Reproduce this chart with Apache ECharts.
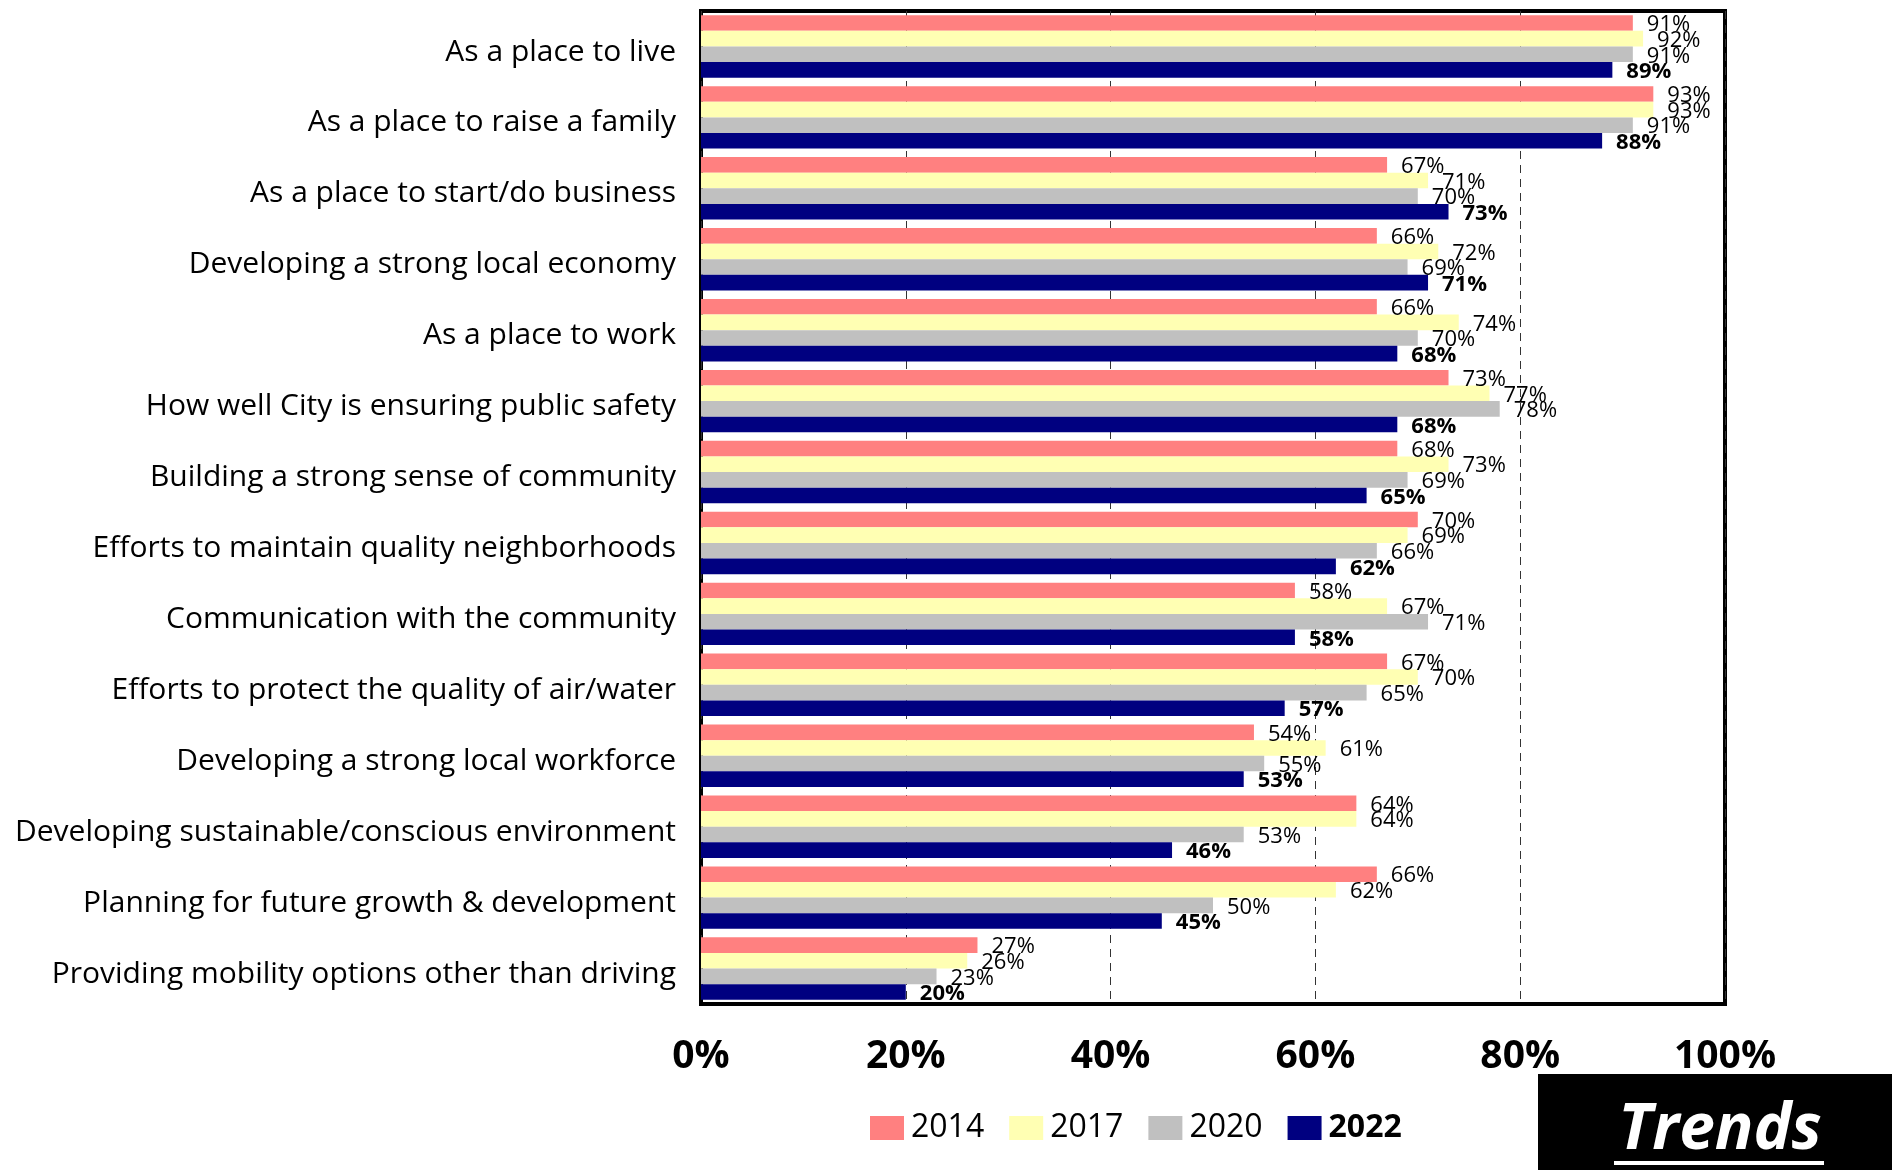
<!DOCTYPE html>
<html>
<head>
<meta charset="utf-8">
<script src="https://cdn.jsdelivr.net/npm/echarts@6/dist/echarts.min.js"></script>
<style>
html,body{margin:0;padding:0;background:#fff;}
#chart{width:1892px;height:1170px;}
</style>
</head>
<body>
<div id="chart"></div>
<script>
const categories = [
  'As a place to live',
  'As a place to raise a family',
  'As a place to start/do business',
  'Developing a strong local economy',
  'As a place to work',
  'How well City is ensuring public safety',
  'Building a strong sense of community',
  'Efforts to maintain quality neighborhoods',
  'Communication with the community',
  'Efforts to protect the quality of air/water',
  'Developing a strong local workforce',
  'Developing sustainable/conscious environment',
  'Planning for future growth & development',
  'Providing mobility options other than driving'
];
const seriesNames = ['2014', '2017', '2020', '2022'];
const values2014 = [91, 93, 67, 66, 66, 73, 68, 70, 58, 67, 54, 64, 66, 27];
const values2017 = [92, 93, 71, 72, 74, 77, 73, 69, 67, 70, 61, 64, 62, 26];
const values2020 = [91, 91, 70, 69, 70, 78, 69, 66, 71, 65, 55, 53, 50, 23];
const values2022 = [89, 88, 73, 71, 68, 68, 65, 62, 58, 57, 53, 46, 45, 20];
const xTicks = [0, 20, 40, 60, 80, 100];

const colors = ['#FF8080', '#FFFFB3', '#C0C0C0', '#000080'];
const allValues = [values2014, values2017, values2020, values2022];
const FONT = 'Open Sans';

const chart = echarts.init(document.getElementById('chart'), null, {renderer: 'canvas'});

const series = seriesNames.map((name, i) => ({
  name: name,
  type: 'bar',
  data: allValues[i],
  barGap: '0%',
  barCategoryGap: '12%',
  itemStyle: {color: colors[i]},
  label: {
    show: true,
    position: 'right',
    distance: 14,
    offset: [0, 2],
    formatter: '{c}%',
    color: '#000',
    fontFamily: FONT,
    fontSize: 22,
    fontWeight: i === 3 ? 'bold' : 'normal'
  },
  z: 3
}));

chart.setOption({
  animation: false,
  backgroundColor: '#fff',
  grid: {
    left: 701, right: 167, top: 11, bottom: 166,
    show: true, borderColor: '#000', borderWidth: 4, backgroundColor: 'transparent',
    containLabel: false
  },
  xAxis: {
    type: 'value',
    min: xTicks[0], max: xTicks[xTicks.length - 1], interval: 20,
    axisLine: {show: false},
    axisTick: {show: false},
    splitLine: {show: true, lineStyle: {color: '#333', width: 1, type: [8, 6]}},
    axisLabel: {
      formatter: v => xTicks.indexOf(v) >= 0 ? v + '%' : '',
      fontFamily: FONT, fontSize: 39, fontWeight: 'bold', color: '#000', margin: 33
    }
  },
  yAxis: {
    type: 'category',
    data: categories,
    inverse: true,
    axisLine: {show: false},
    axisTick: {show: false},
    splitLine: {show: false},
    axisLabel: {fontFamily: FONT, fontSize: 30, color: '#000', margin: 25, verticalAlign: 'top', lineHeight: 11}
  },
  legend: {
    data: seriesNames,
    left: 865, top: 1107,
    icon: 'rect', itemWidth: 34, itemHeight: 24, itemGap: 25,
    textStyle: {
      fontFamily: FONT, fontSize: 32, color: '#000', padding: [0, 0, 0, 2],
      rich: {b: {fontFamily: FONT, fontSize: 32, fontWeight: 'bold', color: '#000'}}
    },
    formatter: name => name === '2022' ? '{b|' + name + '}' : name
  },
  graphic: [
    {type: 'rect', left: 1538, top: 1074, shape: {width: 354, height: 96}, style: {fill: '#000'}, z: 10},
    {type: 'text', x: 1720, y: 1131, z: 11,
     style: {text: 'Trends', fill: '#fff', font: 'italic bold 64px "Open Sans"', align: 'center', verticalAlign: 'middle'}},
    {type: 'rect', left: 1614, top: 1161, shape: {width: 210, height: 4}, style: {fill: '#fff'}, z: 11}
  ],
  series: series
});
</script>
</body>
</html>
